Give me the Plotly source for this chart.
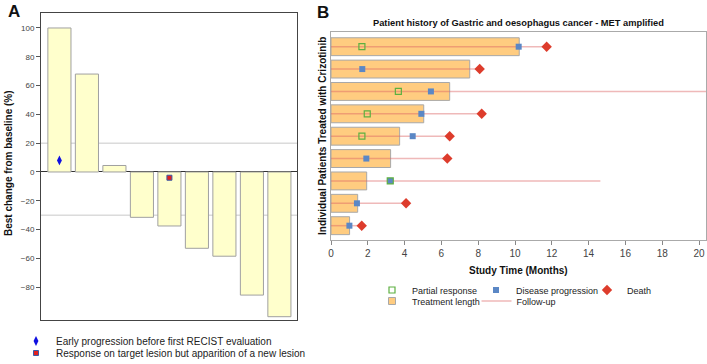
import plotly.graph_objects as go

# ---------------- Panel A data ----------------
A_PATIENTS = [1, 2, 3, 4, 5, 6, 7, 8, 9]
A_CHANGE = [100, 68, 4.5, -31.5, -37.5, -53, -58.5, -85.5, -100.5]
A_EARLY_X = [1]
A_EARLY_Y = [8]
A_NEWLES_X = [5]
A_NEWLES_Y = [-4]
A_REF_LINES = [20, -30]
A_YTICKS = [100, 80, 60, 40, 20, 0, -20, -40, -60, -80]

# ---------------- Panel B data ----------------
B_PATIENTS = [1, 2, 3, 4, 5, 6, 7, 8, 9]
B_TREATMENT = [10.23, 7.54, 6.45, 5.04, 3.73, 3.24, 1.94, 1.45, 1.01]
B_PR_PAT = [1, 3, 4, 5, 7]
B_PR_TIME = [1.68, 3.66, 1.97, 1.68, 3.22]
B_PD_PAT = [1, 2, 3, 4, 5, 6, 7, 8, 9]
B_PD_TIME = [10.2, 1.70, 5.43, 4.91, 4.44, 1.92, 3.22, 1.41, 1.0]
B_DEATH_PAT = [1, 2, 4, 5, 6, 8, 9]
B_DEATH_TIME = [11.72, 8.08, 8.19, 6.45, 6.32, 4.08, 1.67]
B_FOLLOWUP_END = [11.72, 8.08, 21.0, 8.19, 6.45, 6.32, 14.64, 4.08, 1.67]
B_XTICKS = [0, 2, 4, 6, 8, 10, 12, 14, 16, 18, 20]

W, H = 707, 364
FONT = "Liberation Sans, Arial, sans-serif"


def px(x):
    return x / W


def py(y):
    return 1 - y / H


fig = go.Figure()

# Panel A bars
fig.add_trace(go.Bar(
    x=A_PATIENTS, y=A_CHANGE, width=0.84,
    marker=dict(color="#FFFFCC", line=dict(color="#A0A0A0", width=1)),
    showlegend=False, xaxis="x", yaxis="y",
))
fig.add_trace(go.Scatter(
    x=A_EARLY_X, y=A_EARLY_Y, mode="markers",
    marker=dict(symbol="diamond-tall", size=7, color="#1010E0"),
    name="Early progression before first RECIST evaluation",
    legend="legend", xaxis="x", yaxis="y",
))
fig.add_trace(go.Scatter(
    x=A_NEWLES_X, y=A_NEWLES_Y, mode="markers",
    marker=dict(symbol="square", size=5, color="#E02020",
                line=dict(color="#3A5AA8", width=1)),
    name="Response on target lesion but apparition of a new lesion",
    legend="legend2", xaxis="x", yaxis="y",
))

# Panel B
fig.add_trace(go.Bar(
    x=B_TREATMENT, y=B_PATIENTS, orientation="h", width=0.8,
    marker=dict(color="#FFCC80", line=dict(color="#A8A8A8", width=1)),
    showlegend=False, xaxis="x2", yaxis="y2",
))
fx, fy = [], []
for p, e in zip(B_PATIENTS, B_FOLLOWUP_END):
    fx += [0, e, None]
    fy += [p, p, None]
fig.add_trace(go.Scatter(
    x=fx, y=fy, mode="lines",
    line=dict(color="rgba(220,100,100,0.45)", width=1.5),
    name="Follow-up", legend="legend7", xaxis="x2", yaxis="y2",
))
fig.add_trace(go.Scatter(
    x=B_PD_TIME, y=B_PD_PAT, mode="markers",
    marker=dict(symbol="square", size=6, color="#5B87C5"),
    name="Disease progression", legend="legend4", xaxis="x2", yaxis="y2",
))
fig.add_trace(go.Scatter(
    x=B_PR_TIME, y=B_PR_PAT, mode="markers",
    marker=dict(symbol="square-open", size=6, color="#5DB040", line=dict(width=1.2)),
    name="Partial response", legend="legend3", xaxis="x2", yaxis="y2",
))
fig.add_trace(go.Scatter(
    x=B_DEATH_TIME, y=B_DEATH_PAT, mode="markers",
    marker=dict(symbol="diamond", size=8, color="#DD3C2C"),
    name="Death", legend="legend5", xaxis="x2", yaxis="y2",
))
fig.add_trace(go.Scatter(
    x=[None], y=[None], mode="markers",
    marker=dict(symbol="square", size=7, color="#FFCC80", line=dict(color="#A8A8A8", width=1)),
    name="Treatment length", legend="legend6", xaxis="x2", yaxis="y2",
))

shapes = [
    dict(type="line", xref="x domain", x0=0, x1=1, yref="y", y0=v, y1=v,
         line=dict(color="#C8C8C8", width=1), layer="below")
    for v in A_REF_LINES
]


def leg(sx, sy, size):
    return dict(x=px(sx - 20), y=py(sy - 14.5), xanchor="left", yanchor="top",
                bgcolor="rgba(0,0,0,0)", borderwidth=0,
                font=dict(family=FONT, size=size, color="#222"))


annotations = [
    dict(text="<b>A</b>", x=px(13.5), y=py(12), xref="paper", yref="paper",
         showarrow=False, xanchor="center", yanchor="middle",
         font=dict(family=FONT, size=17, color="#111")),
    dict(text="<b>B</b>", x=px(323), y=py(12.5), xref="paper", yref="paper",
         showarrow=False, xanchor="center", yanchor="middle",
         font=dict(family=FONT, size=17, color="#111")),
    dict(text="<b>Best change from baseline (%)</b>", x=px(8), y=py(163),
         xref="paper", yref="paper", showarrow=False, textangle=-90,
         xanchor="center", yanchor="middle",
         font=dict(family=FONT, size=10, color="#111")),
    dict(text="<b>Patient history of Gastric and oesophagus cancer - MET amplified</b>",
         x=px(518.4), y=py(23.3), xref="paper", yref="paper", showarrow=False,
         xanchor="center", yanchor="middle",
         font=dict(family=FONT, size=9.3, color="#111")),
    dict(text="<b>Study Time (Months)</b>", x=px(518), y=py(270),
         xref="paper", yref="paper", showarrow=False,
         xanchor="center", yanchor="middle",
         font=dict(family=FONT, size=10, color="#111")),
    dict(text="<b>Individual Patients Treated with Crizotinib</b>", x=px(322), y=py(136),
         xref="paper", yref="paper", showarrow=False, textangle=-90,
         xanchor="center", yanchor="middle",
         font=dict(family=FONT, size=10, color="#111")),
]

fig.update_layout(
    width=W, height=H,
    margin=dict(l=0, r=0, t=0, b=0, autoexpand=False),
    paper_bgcolor="white", plot_bgcolor="white",
    font=dict(family=FONT, size=10, color="#333"),
    showlegend=True,
    xaxis=dict(domain=[px(41), px(297)], range=[0.33, 9.64],
               showticklabels=False, ticks="", showgrid=False, zeroline=False,
               showline=True, mirror=True, linecolor="#444", linewidth=1),
    yaxis=dict(domain=[py(320), py(13)], range=[-102.8, 110.4],
               tickvals=A_YTICKS, ticks="outside", ticklen=4, tickcolor="#555",
               tickfont=dict(family=FONT, size=8, color="#444"),
               showgrid=False, zeroline=True, zerolinecolor="#333", zerolinewidth=1,
               showline=True, mirror=True, linecolor="#444", linewidth=1),
    xaxis2=dict(domain=[px(331), px(706)], range=[0, 20.38], anchor="y2",
                tickvals=B_XTICKS, ticks="outside", ticklen=4, tickcolor="#888",
                tickfont=dict(family=FONT, size=10, color="#444"),
                ticklabeloverflow="allow",
                showgrid=False, zeroline=False,
                showline=True, mirror=True, linecolor="#AAAAAA", linewidth=1),
    yaxis2=dict(domain=[py(240), py(32)], range=[9.64, 0.343], anchor="x2",
                showticklabels=False, ticks="", showgrid=False, zeroline=False,
                showline=True, mirror=True, linecolor="#AAAAAA", linewidth=1),
    legend=leg(36, 341, 10),
    legend2=leg(36, 353, 10),
    legend3=leg(392, 290, 9),
    legend4=leg(496, 290, 9),
    legend5=leg(607, 290, 9),
    legend6=leg(392, 301, 9),
    legend7=leg(496.5, 301, 9),
    shapes=shapes,
    annotations=annotations,
)

fig.write_html(
    "out.html",
    config={"displayModeBar": False},
    post_script="document.body.style.margin='0px';document.body.style.overflow='hidden';",
)
